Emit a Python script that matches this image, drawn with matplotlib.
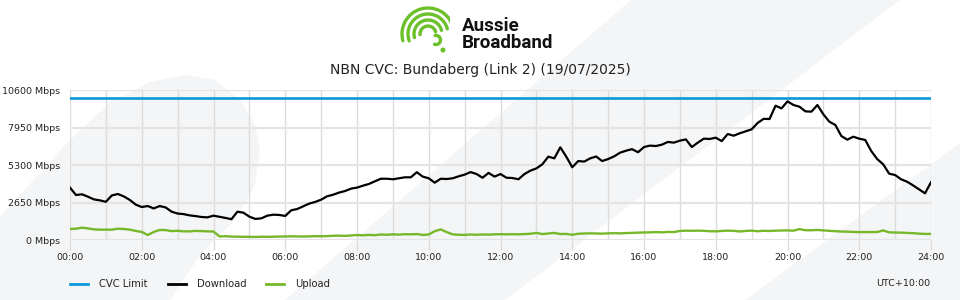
import numpy as np
import matplotlib.pyplot as plt
from matplotlib.patches import Polygon, Arc, Circle
from matplotlib.ticker import FixedLocator, MultipleLocator

# --datos (Mbps cada 10 minutos, 00:00 -> 24:00)
download = [
    3700, 3180, 3230, 3060, 2870, 2800,
    2700, 3150, 3250, 3080, 2830, 2500,
    2330, 2400, 2230, 2400, 2300, 2000,
    1870, 1830, 1740, 1690, 1625, 1600,
    1720, 1640, 1560, 1470, 2000, 1930,
    1650, 1490, 1530, 1720, 1790, 1770,
    1700, 2100, 2190, 2380, 2570, 2690,
    2850, 3090, 3200, 3350, 3460, 3630,
    3700, 3840, 3960, 4150, 4330, 4330,
    4290, 4360, 4430, 4430, 4790, 4480,
    4360, 4050, 4330, 4310, 4360, 4500,
    4620, 4800, 4660, 4400, 4740, 4480,
    4660, 4400, 4380, 4290, 4660, 4900,
    5060, 5350, 5890, 5770, 6550, 5890,
    5140, 5580, 5540, 5770, 5900, 5580,
    5720, 5910, 6170, 6310, 6420, 6200,
    6570, 6670, 6640, 6740, 6930, 6880,
    7020, 7110, 6570, 6880, 7160, 7140,
    7230, 6990, 7490, 7370, 7540, 7680,
    7820, 8270, 8560, 8550, 9490, 9300,
    9800, 9540, 9420, 9090, 9070, 9540,
    8880, 8360, 8130, 7350, 7090, 7300,
    7160, 7070, 6290, 5720, 5350, 4690,
    4590, 4290, 4120, 3860, 3580, 3300,
    4080,
]
upload = [
    780, 800, 870, 820, 750, 730,
    730, 730, 800, 780, 730, 640,
    570, 350, 570, 710, 700, 630,
    650, 610, 610, 640, 630, 610,
    600, 250, 270, 240, 235, 235,
    220, 215, 230, 225, 235, 240,
    250, 260, 255, 245, 260, 270,
    265, 275, 300, 310, 290, 320,
    350, 330, 360, 340, 390, 370,
    400, 380, 410, 400, 420, 360,
    390, 620, 750, 560, 400, 370,
    360, 390, 370, 390, 380, 400,
    410, 400, 410, 400, 420, 440,
    500, 420, 460, 500, 420, 430,
    370, 440, 460, 470, 460, 450,
    470, 480, 470, 490, 500, 520,
    530, 540, 560, 540, 570, 560,
    640, 660, 650, 660, 650, 620,
    610, 640, 660, 650, 600, 640,
    660, 620, 650, 640, 660, 670,
    680, 660, 770, 690, 690, 710,
    680, 650, 620, 600, 590, 570,
    560, 560, 560, 560, 680, 540,
    530, 520, 500, 480, 450, 430,
    430,
]
cvc_limit = 10000
y_ticks = [0, 2650, 5300, 7950, 10600]
x_ticks = [0, 2, 4, 6, 8, 10, 12, 14, 16, 18, 20, 22, 24]
titulo = 'NBN CVC: Bundaberg (Link 2) (19/07/2025)'

upload = upload[:len(download)]
horas = np.linspace(0, 24, len(download))

W, H = 960, 300
fig = plt.figure(figsize=(W / 100, H / 100), dpi=100)
fig.patch.set_facecolor('white')

# --fondo con bandas diagonales
bg = fig.add_axes([0, 0, 1, 1], zorder=-10)
bg.set_xlim(0, W)
bg.set_ylim(H, 0)
bg.axis('off')
gris = '#f4f5f7'
bandas = [
    [(0, 217), (67, 143), (110, 102), (150, 82), (185, 75), (215, 80),
     (240, 100), (255, 125), (260, 150), (255, 185), (235, 220),
     (200, 255), (170, 300), (0, 300)],
    [(631, 0), (900, 0), (505, 300), (285, 300)],
    [(960, 143), (745, 300), (960, 300)],
]
for b in bandas:
    bg.add_patch(Polygon(b, closed=True, facecolor=gris, edgecolor='none'))

# --logo
lg = fig.add_axes([396 / W, 1 - 56 / H, 54 / W, 50 / H], zorder=5)
lg.set_xlim(396, 450)
lg.set_ylim(56, 6)
lg.set_aspect('equal')
lg.axis('off')
verde_logo = '#6cc12a'
for r, t1 in [(8, 175), (14, 165), (20, 160), (26, 165)]:
    lg.add_patch(Arc((428, 34), 2 * r, 2 * r, theta1=t1, theta2=345,
                     color=verde_logo, lw=2.4, capstyle='round'))
lg.add_patch(Arc((436, 40), 9, 9, theta1=-100, theta2=110,
                 color=verde_logo, lw=2.4, capstyle='round'))
lg.add_patch(Circle((443, 50), 1.8, color=verde_logo))
fig.text(462 / W, 1 - 31 / H, 'Aussie', fontsize=13.5, fontweight='bold',
         family='Roboto', color='#111111', ha='left', va='baseline')
fig.text(462 / W, 1 - 48 / H, 'Broadband', fontsize=13.5, fontweight='bold',
         family='Roboto', color='#111111', ha='left', va='baseline')

fig.text(0.5, 1 - 70 / H, titulo, fontsize=10, color='#222222',
         ha='center', va='center', family='DejaVu Sans')

# --grafico principal
ax = fig.add_axes([70 / W, 1 - 240 / H, 861 / W, 150 / H], zorder=1)
ax.patch.set_alpha(0)
l_cvc, = ax.plot([0, 24], [cvc_limit, cvc_limit], color='#0a98d8', lw=1.9,
                 label='CVC Limit', zorder=3)
l_down, = ax.plot(horas, download, color='black', lw=1.6, label='Download',
                  zorder=4)
l_up, = ax.plot(horas, upload, color='#76b82a', lw=1.7, label='Upload',
                zorder=3)
ax.set_xlim(0, 24)
ax.set_ylim(0, 10600)
for s in ax.spines.values():
    s.set_visible(False)

ax.xaxis.set_major_locator(FixedLocator(x_ticks))
ax.xaxis.set_minor_locator(MultipleLocator(1))
ax.set_xticklabels(['%02d:00' % h for h in x_ticks])
ax.yaxis.set_major_locator(FixedLocator(y_ticks))
ax.set_yticklabels(['%d Mbps' % v for v in y_ticks])
ax.grid(axis='x', which='both', color='#dcdcdc', lw=1.0, zorder=0)
ax.grid(axis='y', which='major', color='#e4e4e4', lw=1.6, zorder=0)
ax.tick_params(axis='x', which='major', length=7.5, width=1.0,
               color='#dcdcdc', labelsize=6.8, pad=1.5, labelcolor='#222222')
ax.tick_params(axis='x', which='minor', length=0)
ax.tick_params(axis='y', length=0, pad=7, labelsize=6.8, labelcolor='#222222')

leg = ax.legend(handles=[l_cvc, l_down, l_up], ncol=3, frameon=False,
                loc='center left', bbox_to_anchor=(70 / W, 1 - 284 / H),
                bbox_transform=fig.transFigure, fontsize=7.2,
                handlelength=1.8, handletextpad=1.1, columnspacing=2.0,
                borderpad=0, borderaxespad=0)
for t in leg.get_texts():
    t.set_color('#222222')
for h in leg.legend_handles:
    h.set_linewidth(2.0)

fig.text(930 / W, 1 - 284 / H, 'UTC+10:00', fontsize=6.8, color='#222222',
         ha='right', va='center')

plt.savefig('out.png', dpi=100)
